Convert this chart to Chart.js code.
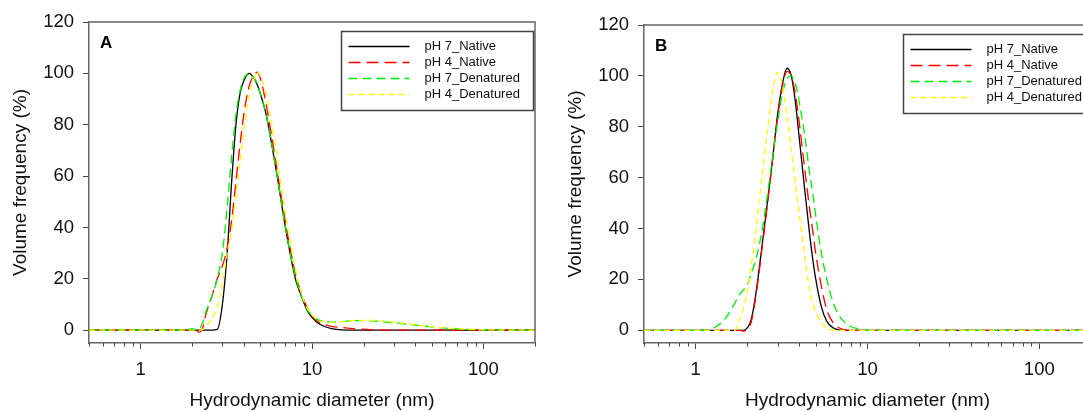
<!DOCTYPE html>
<html>
<head>
<meta charset="utf-8">
<script src="https://cdn.jsdelivr.net/npm/chart.js@4"></script>
<style>
  html, body { margin: 0; padding: 0; background: #fff; overflow: hidden; width: 1083px; height: 412px; }
  .panel { position: absolute; top: 0; }
  #wrap-a { left: 0; }
  #wrap-b { left: 555px; }
</style>
</head>
<body>
<div class="panel" id="wrap-a"><canvas id="chart-a" width="545" height="412"></canvas></div>
<div class="panel" id="wrap-b"><canvas id="chart-b" width="546" height="412"></canvas></div>
<script>
  /*
    ==================================================
    ====================== DATA ======================
    ==================================================
  */

  let diameters = [0.5, 0.7, 1.0, 1.2, 1.35, 1.5, 1.7, 1.8, 1.9, 2.0, 2.1, 2.2, 2.3, 2.4, 2.6, 2.8,
    3.0, 3.2, 3.4, 3.6, 3.8, 4.0, 4.3, 4.6, 4.8, 5.0, 5.4, 5.8, 6.3, 6.8, 7.4, 8.0, 8.7, 9.5,
    10.5, 11.5, 13, 15, 18, 22, 28, 35, 45, 60, 80, 110, 150, 200];

  let seriesNames = ['pH 7_Native', 'pH 4_Native', 'pH 7_Denatured', 'pH 4_Denatured'];

  // panel A
  let a7Native = [0, 0, 0, 0, 0, 0, 0, 0, 0, 0, 0, 0, 0, 0, 0, 0.3,
    10, 30, 58, 80, 92, 97, 100, 98, 95.5, 92, 84, 73, 59, 45, 31, 20, 13, 7,
    3.5, 1.8, 0.6, 0.1, 0, 0, 0, 0, 0, 0, 0, 0, 0, 0];
  let a4Native = [0, 0, 0, 0, 0, 0, 0, 0, 0, 0, -0.3, -0.8, 0.8, 6, 13, 20,
    25, 32, 43, 58, 72, 84, 95, 99.5, 100.5, 98, 88, 76, 61, 47, 33, 22, 14, 8,
    4, 2.5, 1.5, 1, 0.5, 0.2, 0, 0, 0, 0, 0, 0, 0, 0];
  let a7Denat = [0, 0, 0, 0, 0, 0, 0, 0, 0.3, 0.6, 0.3, 0.5, 3, 7, 13, 20,
    30, 48, 68, 84, 93, 98, 100, 98, 96, 92, 84, 73, 59, 45, 31, 21, 13, 7.5,
    4.5, 3.5, 3.1, 3.3, 3.7, 3.6, 3.0, 2.4, 1.6, 0.8, 0.3, 0.1, 0, 0];
  let a4Denat = [0, 0, 0, 0, 0, 0, 0, 0, 0, 0, 0, 0, 0.3, 1.5, 4.5, 9,
    18, 30, 39, 52, 65, 78, 91, 98, 100.5, 99, 92, 81, 66, 51, 36, 24, 14, 8,
    4.5, 3.3, 3.0, 3.3, 3.8, 3.8, 3.3, 2.6, 1.7, 0.9, 0.4, 0.1, 0, 0];

  // panel B
  let b7Native = [0, 0, 0, 0, 0, 0, 0, 0, 0, 1, 4, 11, 20, 30, 49, 67,
    85, 97, 103, 100, 90, 76, 56, 38, 28, 20, 9, 3.5, 1, 0.2, 0, 0, 0, 0,
    0, 0, 0, 0, 0, 0, 0, 0, 0, 0, 0, 0, 0, 0];
  let b4Native = [0, 0, 0, 0, 0, 0, 0, 0, -0.3, 0.5, 3, 10, 19, 29, 48, 67,
    84, 96, 101.8, 100, 93, 82, 64, 48, 39, 30, 17, 8, 3, 1, 0.2, 0, 0, 0,
    0, 0, 0, 0, 0, 0, 0, 0, 0, 0, 0, 0, 0, 0];
  let b7Denat = [0, 0, 0, 0.2, 2, 5, 11, 14, 16, 18, 22, 26, 31, 37, 52, 68,
    82, 93, 99, 100, 97, 90, 77, 62, 54, 45, 30, 20, 11, 6, 3, 1.5, 0.7, 0.2,
    0, 0, 0, 0, 0, 0, 0, 0, 0, 0, 0, 0, 0, 0];
  let b4Denat = [0, 0, 0, 0, 0, 0, 0.1, 4, 9, 16, 25, 35, 46, 57, 77, 94,
    101.5, 96, 84, 71, 58, 46, 30, 16, 11, 7, 3, 0.8, 0.1, 0, 0, 0, 0, 0,
    0, 0, 0, 0, 0, 0, 0, 0, 0, 0, 0, 0, 0, 0];

  let xTicks = [0.5, 0.6, 0.7, 0.8, 0.9, 1, 2, 3, 4, 5, 6, 7, 8, 9, 10, 20, 30, 40, 50, 60, 70, 80, 90, 100, 200];
  let xLabels = [1, 10, 100];
  let yTicks = [0, 20, 40, 60, 80, 100, 120];

  /*
    ==================================================
    ===================== STYLE ======================
    ==================================================
  */

  let fontFamily = 'Arial, "Liberation Sans", sans-serif';
  let lineColors = ['#000000', '#ff0000', '#00ee00', '#ffff00'];
  let lineDashes = [[], [12, 6], [9, 5], [6, 4]];

  /*
    ==================================================
    ==================== PLUGIN =====================
    ==================================================
  */

  let panelDeco = {
    id: 'panelDeco',
    afterDraw(chart, args, opts) {
      let { ctx, chartArea: { left, top, right, bottom }, scales: { x } } = chart;
      ctx.save();

      /* minor ticks of the log axis */
      ctx.strokeStyle = '#444';
      ctx.lineWidth = 1;
      x.ticks.forEach(t => {
        if (xLabels.includes(t.value)) return;
        let px = Math.round(x.getPixelForValue(t.value)) + 0.5;
        ctx.beginPath();
        ctx.moveTo(px, bottom);
        ctx.lineTo(px, bottom + 3.5);
        ctx.stroke();
      });

      /* top and right of the frame */
      ctx.strokeStyle = '#666';
      ctx.lineWidth = 1.5;
      ctx.beginPath();
      ctx.moveTo(left, top);
      ctx.lineTo(right, top);
      ctx.lineTo(right, bottom);
      ctx.stroke();

      /* panel letter */
      ctx.fillStyle = '#000';
      ctx.font = 'bold 17px ' + fontFamily;
      ctx.textBaseline = 'middle';
      ctx.textAlign = 'left';
      ctx.fillText(opts.letter, left + 11, top + 21);

      /* legend */
      let lx = Math.round(left + opts.legendX) + 0.5;
      let ly = Math.round(top + 9) + 0.5;
      ctx.fillStyle = '#fff';
      ctx.fillRect(lx, ly, 192, 79);
      ctx.strokeStyle = '#444';
      ctx.lineWidth = 1.5;
      ctx.strokeRect(lx, ly, 192, 79);

      ctx.font = '13px ' + fontFamily;
      seriesNames.forEach((name, i) => {
        let yy = ly + 15 + i * 16;
        ctx.strokeStyle = lineColors[i];
        ctx.lineWidth = 1.4;
        ctx.setLineDash(lineDashes[i]);
        ctx.beginPath();
        ctx.moveTo(lx + 7, yy);
        ctx.lineTo(lx + 68, yy);
        ctx.stroke();
        ctx.setLineDash([]);
        ctx.fillStyle = '#111';
        ctx.fillText(name, lx + 83, yy);
      });

      ctx.restore();
    }
  };

  /*
    ==================================================
    ===================== CHART ======================
    ==================================================
  */

  let makeChart = (canvasId, series, { letter, legendX, top }) => {
    // later series sit on top, like the original plot
    let datasets = series.map((vals, i) => ({
      label: seriesNames[i],
      data: diameters.map((d, k) => ({ x: d, y: vals[k] })),
      order: series.length - i,
      borderColor: lineColors[i],
      borderDash: lineDashes[i],
      borderWidth: 1.3,
      pointRadius: 0,
      cubicInterpolationMode: 'monotone',
      fill: false
    }));

    return new Chart(document.getElementById(canvasId).getContext('2d'), {
      type: 'line',
      data: { datasets },
      plugins: [panelDeco],
      options: {
        responsive: false,
        animation: false,
        layout: { padding: { left: 0, top: top, right: 6, bottom: 0 } },
        plugins: {
          legend: { display: false },
          tooltip: { enabled: false },
          panelDeco: { letter, legendX }
        },
        scales: {
          x: {
            type: 'logarithmic',
            min: 0.5,
            max: 200,
            afterBuildTicks: scale => { scale.ticks = xTicks.map(v => ({ value: v })); },
            afterFit: scale => { scale.height = 69; },
            grid: {
              drawOnChartArea: false,
              tickLength: 6,
              tickColor: c => (c.tick && xLabels.includes(c.tick.value)) ? '#444' : 'rgba(0,0,0,0)'
            },
            border: { color: '#666', width: 1.5 },
            ticks: {
              autoSkip: false,
              maxRotation: 0,
              padding: 10,
              color: '#111',
              font: { family: fontFamily, size: 18.5 },
              callback: v => xLabels.includes(v) ? String(v) : ''
            },
            title: {
              display: true,
              text: 'Hydrodynamic diameter (nm)',
              color: '#111',
              font: { family: fontFamily, size: 19 },
              padding: { top: 0, bottom: 0 }
            }
          },
          y: {
            min: -5,
            max: 120,
            afterBuildTicks: scale => { scale.ticks = yTicks.map(v => ({ value: v })); },
            afterFit: scale => { scale.width = 89; },
            grid: { drawOnChartArea: false, tickLength: 6, tickColor: '#444' },
            border: { color: '#666', width: 1.5 },
            ticks: {
              padding: 9,
              color: '#111',
              font: { family: fontFamily, size: 18.5 }
            },
            title: {
              display: true,
              text: 'Volume frequency (%)',
              color: '#111',
              font: { family: fontFamily, size: 19 },
              padding: { top: 9, bottom: 0 }
            }
          }
        }
      }
    });
  };

  makeChart('chart-a', [a7Native, a4Native, a7Denat, a4Denat], { letter: 'A', legendX: 252, top: 22 });
  makeChart('chart-b', [b7Native, b4Native, b7Denat, b4Denat], { letter: 'B', legendX: 259, top: 25 });
</script>
</body>
</html>
